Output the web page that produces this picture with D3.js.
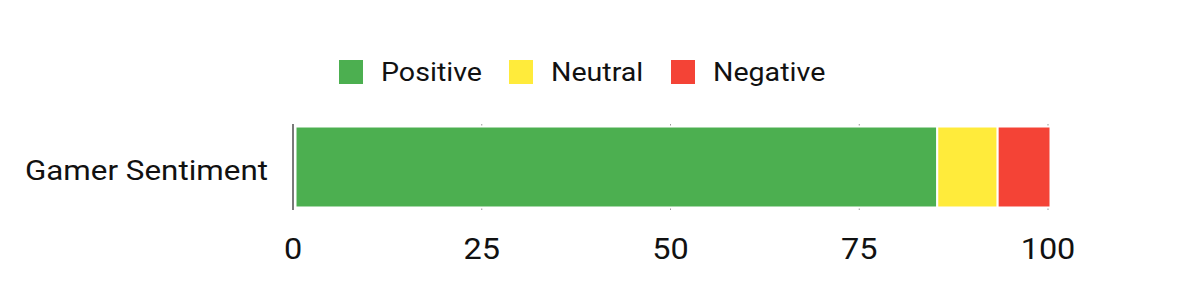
<!DOCTYPE html>
<html>
<head>
<meta charset="utf-8">
<script src="https://cdn.jsdelivr.net/npm/d3@7"></script>
<style>
  html, body { margin: 0; padding: 0; background: #fff; }
  svg { display: block; font-family: Roboto, "Noto Sans", sans-serif; }
</style>
</head>
<body>
<svg id="chart" width="1200" height="300"></svg>
<script>
const categories = ["Gamer Sentiment"];
const seriesNames = ["Positive", "Neutral", "Negative"];
const positiveValues = [85];
const neutralValues = [8];
const negativeValues = [7];
const tickValues = [0, 25, 50, 75, 100];
const seriesColors = ["#4CAF50", "#FFEB3B", "#F44336"];

const svg = d3.select("#chart");
const margin = { left: 293, right: 152, top: 124, bottom: 90 };
const W = 1200, H = 300;
const stretch = 1.12;

const x = d3.scaleLinear().domain([0, 100]).range([margin.left, W - margin.right]);
const y = d3.scaleBand().domain(categories).range([margin.top, H - margin.bottom])
  .paddingInner(0).paddingOuter(0.031);

const seriesValues = [positiveValues, neutralValues, negativeValues];
const rows = categories.map((c, i) => {
  const r = { category: c };
  seriesNames.forEach((s, k) => r[s] = seriesValues[k][i]);
  return r;
});
const stacked = d3.stack().keys(seriesNames)(rows);

// gridlines
svg.append("g").selectAll("line").data(tickValues.filter(d => d !== 0)).join("line")
  .attr("x1", d => x(d)).attr("x2", d => x(d))
  .attr("y1", margin.top).attr("y2", H - margin.bottom)
  .attr("stroke", "#999").attr("stroke-width", 1);

// bars
svg.append("g").attr("transform", "translate(2.5,0)")
  .selectAll("g").data(stacked).join("g")
  .attr("fill", (d, i) => seriesColors[i])
  .selectAll("rect").data(d => d).join("rect")
  .attr("x", d => x(d[0]))
  .attr("width", d => x(d[1]) - x(d[0]))
  .attr("y", d => y(d.data.category))
  .attr("height", y.bandwidth())
  .attr("stroke", "#fff").attr("stroke-width", 2);

// zero baseline
svg.append("line")
  .attr("x1", x(0)).attr("x2", x(0))
  .attr("y1", margin.top).attr("y2", H - margin.bottom)
  .attr("stroke", "#7a7a7a").attr("stroke-width", 2);

// x tick labels
svg.append("g").selectAll("text").data(tickValues).join("text")
  .attr("transform", d => `translate(${x(d)},259) scale(${stretch},1)`)
  .attr("text-anchor", "middle")
  .attr("font-size", 29).attr("fill", "#111")
  .text(d => d);

// category labels
svg.append("g").selectAll("text").data(categories).join("text")
  .attr("transform", d => `translate(268,${y(d) + y.step() / 2 + 13}) scale(${stretch},1)`)
  .attr("text-anchor", "end")
  .attr("font-size", 28).attr("fill", "#111")
  .text(d => d);

// legend
const legendX = [339, 509, 671];
const lg = svg.append("g").selectAll("g").data(seriesNames).join("g")
  .attr("transform", (d, i) => `translate(${legendX[i]},60)`);
lg.append("rect").attr("width", 24).attr("height", 24).attr("fill", (d, i) => seriesColors[i]);
lg.append("text").attr("transform", `translate(42,21) scale(1.1,1)`)
  .attr("font-size", 26).attr("fill", "#111").text(d => d);
</script>
</body>
</html>
